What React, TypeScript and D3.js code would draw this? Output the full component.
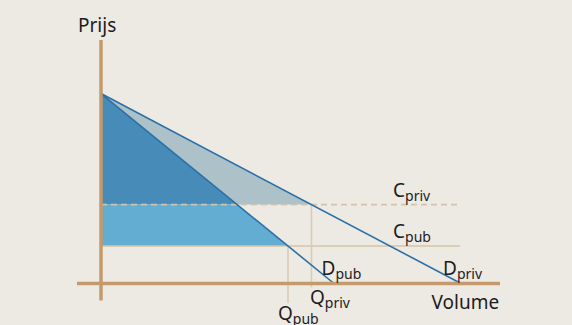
import React from 'react';
import * as d3 from 'd3';

// price where both demand curves start (y-intercept)
const demandIntercept = 78;
// quantity where each demand curve hits the volume axis
const demandNames = ['pub', 'priv'];
const demandEnds = [58.25, 90];
// cost levels
const costNames = ['priv', 'pub'];
const costLevels = [32.4, 15.4];

const width = 572;
const height = 325;

const x = d3.scaleLinear().domain([0, 100]).range([101, 501]);
const y = d3.scaleLinear().domain([0, 100]).range([283.5, 40]);

// quantity on a demand line at a given price
const qAt = (end: number, p: number) => end * (1 - p / demandIntercept);

const FONT = '"Noto Sans", sans-serif';

const Label = ({ px, py, main, sub }: { px: number; py: number; main: string; sub: string }) => (
  <text x={px} y={py} fontFamily={FONT} fontSize={19} fill="#1c1c1c">
    {main}
    <tspan fontSize={14} dy={4}>{sub}</tspan>
  </text>
);

export default function App() {
  const [dPub, dPriv] = demandEnds;
  const [cPriv, cPub] = costLevels;
  const qPub = qAt(dPub, cPub);
  const qPriv = qAt(dPriv, cPriv);
  const qPubAtPriv = qAt(dPub, cPriv);

  const poly = d3.line<[number, number]>().x(d => x(d[0])).y(d => y(d[1]));

  const darkTri = poly([[0, demandIntercept], [qPubAtPriv, cPriv], [0, cPriv]]) + 'Z';
  const greyTri = poly([[0, demandIntercept], [qPriv, cPriv], [qPubAtPriv, cPriv]]) + 'Z';
  const lightTrap = poly([[0, cPriv], [qPubAtPriv, cPriv], [qPub, cPub], [0, cPub]]) + 'Z';

  const lineEnd = 89.75;

  return (
    <svg width={width} height={height} style={{ display: 'block', position: 'absolute', left: 0, top: 0 }}>
      <rect width={width} height={height} fill="#EDEAE4" />

      <path d={darkTri} fill="#478CB8" />
      <path d={greyTri} fill="#ADC1C9" />
      <path d={lightTrap} fill="#63ADD2" />

      {/* cost lines */}
      <line x1={x(0)} x2={x(lineEnd)} y1={y(cPriv)} y2={y(cPriv)} stroke="#D2C4AC" strokeWidth={1.6} strokeDasharray="6 4" />
      <line x1={x(0)} x2={x(lineEnd)} y1={y(cPub)} y2={y(cPub)} stroke="#D6C3A3" strokeWidth={1.6} />

      {/* quantity drop lines */}
      <line x1={x(qPub)} x2={x(qPub)} y1={y(cPub)} y2={y(-8)} stroke="#D8CCB7" strokeWidth={1.6} />
      <line x1={x(qPriv)} x2={x(qPriv)} y1={y(cPriv)} y2={y(-1.5)} stroke="#D8CCB7" strokeWidth={1.6} />

      {/* demand lines */}
      {demandEnds.map((end, i) => (
        <line key={demandNames[i]} x1={x(0)} y1={y(demandIntercept)} x2={x(end)} y2={y(0)} stroke="#2A70A6" strokeWidth={1.6} />
      ))}

      {/* axes */}
      <line x1={x(0)} x2={x(0)} y1={y(100)} y2={y(-7)} stroke="#C49A6C" strokeWidth={3.5} />
      <line x1={x(-6)} x2={x(99.75)} y1={y(0)} y2={y(0)} stroke="#C49A6C" strokeWidth={3.5} />

      <text x={78} y={31.5} fontFamily={FONT} fontSize={19} fill="#1c1c1c">Prijs</text>
      <text x={431.5} y={309} fontFamily={FONT} fontSize={19} fill="#1c1c1c">Volume</text>

      <Label px={393} py={197} main="C" sub={costNames[0]} />
      <Label px={393} py={238} main="C" sub={costNames[1]} />
      <Label px={321.5} py={275} main="D" sub={demandNames[0]} />
      <Label px={443} py={275} main="D" sub={demandNames[1]} />
      <Label px={278} py={320} main="Q" sub="pub" />
      <Label px={310} py={304} main="Q" sub="priv" />
    </svg>
  );
}
